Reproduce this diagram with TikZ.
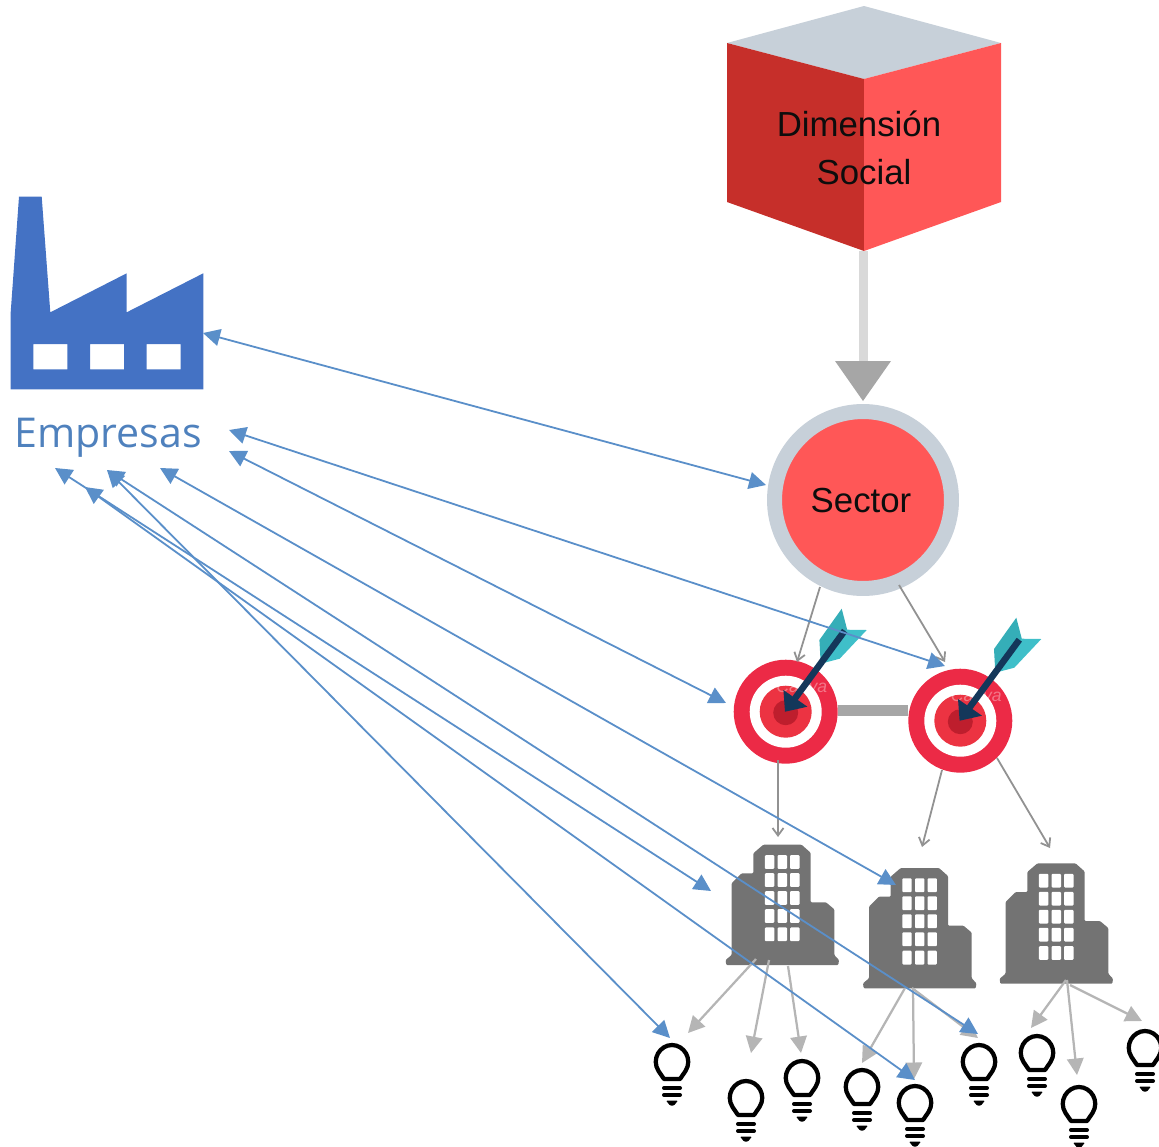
\documentclass[tikz,border=0pt]{standalone}
\usepackage{fontspec}
\setmainfont{Liberation Sans}
\newfontfamily\empfont{Open Sans}
\usetikzlibrary{arrows.meta}
\definecolor{blueline}{HTML}{5A8FC9}
\definecolor{factoryblue}{HTML}{4472C4}
\definecolor{emptext}{HTML}{4F81BD}
\definecolor{steel}{HTML}{C7D0D9}
\definecolor{coral}{HTML}{FF5757}
\definecolor{brick}{HTML}{C62F2A}
\definecolor{midgray}{HTML}{A6A6A6}
\definecolor{softgray}{HTML}{B5B5B5}
\definecolor{thingray}{HTML}{929292}
\definecolor{bldgray}{HTML}{737373}
\definecolor{ringred}{HTML}{EC2A46}
\definecolor{corered}{HTML}{EC3342}
\definecolor{darkred}{HTML}{BE1E2D}
\definecolor{navyarrow}{HTML}{14375A}
\definecolor{tealA}{HTML}{35AEB8}
\definecolor{tealB}{HTML}{3FBFC9}
\tikzset{
  x=0.02cm,y=-0.02cm,
  bothblue/.style={draw=blueline,line width=0.036cm,{Triangle[length=0.34cm,width=0.34cm]}-{Triangle[length=0.34cm,width=0.34cm]}},
  thinarrow/.style={draw=thingray,line width=0.036cm,-{Straight Barb[length=0.15cm,width=0.22cm]}},
  softarrow/.style={draw=softgray,line width=0.045cm,-{Triangle[length=0.33cm,width=0.33cm]}},
  label text/.style={inner sep=0pt,font=\fontsize{19.8}{24}\selectfont,text=black!95},
  anchorpt/.style={inner sep=0pt,minimum size=0pt},
  targetpic/.pic={
    \fill[ringred] (0,0) circle (1.04cm);
    \fill[white] (0,0) circle (0.72cm);
    \fill[corered] (0,0) circle (0.52cm);
    \fill[darkred] (0,1) circle (0.25cm);
    \node[anchorpt,text=white,opacity=.35,font=\fontsize{10}{10}\selectfont\itshape] at (16,-25) {Canva};
    \fill[tealA] (56,-103) -- (33.7,-71.7) -- (35,-48) -- (62,-80) -- cycle;
    \fill[tealB] (81,-81.7) -- (61,-82) -- (35,-48) -- (54,-53) -- cycle;
    \draw[navyarrow,line width=0.13cm] (59,-81) -- (9.3,-13.3);
    \fill[navyarrow] (-2.3,-21.7) -- (-0.7,0) -- (21.7,-5) -- cycle;
  },
  buildingpic/.pic={
    \fill[bldgray,rounded corners=0.02cm] (-19,-120.3) -- (19.3,-120.3) -- (28.3,-112.3) -- (28.3,-62.7) -- (43.7,-62.7) -- (52,-55.7) -- (52,-10) -- (56.7,-5) -- (56,0) -- (-56,0) -- (-56.7,-5) -- (-50.7,-10) -- (-50.7,-81.7) -- (-40.7,-91.7) -- (-29,-91.7) -- (-29,-111.7) -- cycle;
    \foreach \wx in {-12.7,0,12.5}
      \foreach \wy in {-103,-85,-67,-49,-30.7}
        \fill[white,rounded corners=0.02cm] (\wx-4.7,\wy-6.9) rectangle (\wx+4.7,\wy+6.9);
  },
  bulbpic/.pic={
    \draw[black,line width=0.085cm,line join=round] (-8,17) -- (-13.5,9) .. controls (-21,-3) and (-12,-17) .. (0,-17) .. controls (12,-17) and (21,-3) .. (13.5,9) -- (8,17) -- cycle;
    \draw[black,line width=0.08cm,line cap=round] (-8,26) -- (8,26);
    \draw[black,line width=0.08cm,line cap=round] (-8,33) -- (8,33);
    \fill[black,rounded corners=0.02cm] (-6,38.5) -- (6,38.5) -- (2,43.5) -- (-2,43.5) -- cycle;
  },
}
\begin{document}
\begin{tikzpicture}
\useasboundingbox (0,0) rectangle (1159,1146);
% factory
\fill[factoryblue,even odd rule] (19,196.7) -- (41.7,196.7) -- (50.3,312.3) -- (126.7,273.3) -- (126.7,312.3) -- (203.3,273.3) -- (203.3,389.3) -- (10.7,389.3) -- (10.7,312.3) -- cycle
  (33.3,344) rectangle (67.3,369.3) (90,344) rectangle (124,369.3) (146.7,344) rectangle (180.7,369.3);
\node[anchor=base west,inner sep=0pt,text=emptext,font=\empfont\fontsize{23.4}{28}\selectfont] (empresas) at (14,447) {Empresas};
% cube
\fill[steel] (864,6) -- (1001,43) -- (864,79) -- (727,43) -- cycle;
\fill[brick] (727,43) -- (864,79) -- (864,251) -- (727,202) -- cycle;
\fill[coral] (1001,43) -- (864,79) -- (864,251) -- (1001,202) -- cycle;
\node[label text] (dim) at (859,124) {Dimensión};
\node[label text] (soc) at (864,172) {Social};
% sector
\node[circle,fill=coral,draw=steel,line width=0.3cm,minimum size=3.54cm,inner sep=0pt] (sector) at (863,500) {};
\node[label text] (sectortext) at (861,501) {Sector};
\coordinate (cubebottom) at (863,251);
\coordinate (shaftend) at (863,362);
\coordinate (hl) at (835,361);
\coordinate (hr) at (891,361);
\coordinate (ht) at (863,401);
\draw[draw=black!15,line width=0.18cm] (cubebottom) -- (shaftend);
\fill[midgray] (hl) -- (hr) -- (ht) -- cycle;
% targets
\coordinate (t1r) at (838,710);
\coordinate (t2l) at (908,710);
\draw[midgray,line width=0.22cm] (t1r) -- (t2l);
\pic at (785.7,711.7) {targetpic};
\pic at (960.3,720.7) {targetpic};
% buildings
\pic at (782.3,965) {buildingpic};
\pic at (919.7,988.3) {buildingpic};
\pic at (1056.3,983.7) {buildingpic};
% bulbs
\foreach \bx/\by in {672/1062,746/1098,802/1078,862/1087,915/1103,979/1062,1037/1053,1079/1104,1145/1048}
  \pic at (\bx,\by) {bulbpic};
% thin arrows
\coordinate (a1) at (820,587); \coordinate (a2) at (797,662);
\coordinate (a3) at (899,585); \coordinate (a4) at (945,662);
\coordinate (a5) at (778,760); \coordinate (a6) at (778,837);
\coordinate (a7) at (942,770); \coordinate (a8) at (922,847);
\coordinate (a9) at (997,758); \coordinate (a10) at (1050,848);
\draw[thinarrow] (a1) -- (a2);
\draw[thinarrow] (a3) -- (a4);
\draw[thinarrow] (a5) -- (a6);
\draw[thinarrow] (a7) -- (a8);
\draw[thinarrow] (a9) -- (a10);
% soft arrows
\coordinate (s1) at (756,959); \coordinate (e1) at (688,1033);
\coordinate (s2) at (769,960); \coordinate (e2) at (751,1053);
\coordinate (s3) at (788,966); \coordinate (e3) at (801,1053);
\coordinate (s4) at (905,988); \coordinate (e4) at (862,1063);
\coordinate (s5) at (913,988); \coordinate (e5) at (914,1079);
\coordinate (s6) at (912,988); \coordinate (e6) at (978,1038);
\coordinate (s7) at (1066,980); \coordinate (e7) at (1031,1028);
\coordinate (s8) at (1067,980); \coordinate (e8) at (1077,1075);
\coordinate (s9) at (1070,985); \coordinate (e9) at (1142,1021);
\foreach \i in {1,...,9} \draw[softarrow] (s\i) -- (e\i);
% blue double arrows
\coordinate (l1) at (203,333); \coordinate (r1) at (766,485);
\coordinate (l2) at (229,430); \coordinate (r2) at (945,666);
\coordinate (l3) at (229,451); \coordinate (r3) at (726,703);
\coordinate (l4) at (160,468); \coordinate (r4) at (896,885);
\coordinate (l5) at (107,470); \coordinate (r5) at (670,1038);
\coordinate (l6) at (107,470); \coordinate (r6) at (978,1034);
\coordinate (l7) at (55,468);  \coordinate (r7) at (711,891);
\coordinate (l8) at (85,487);  \coordinate (r8) at (915,1080);
\foreach \i in {1,...,8} \draw[bothblue] (l\i) -- (r\i);
\end{tikzpicture}
\end{document}
